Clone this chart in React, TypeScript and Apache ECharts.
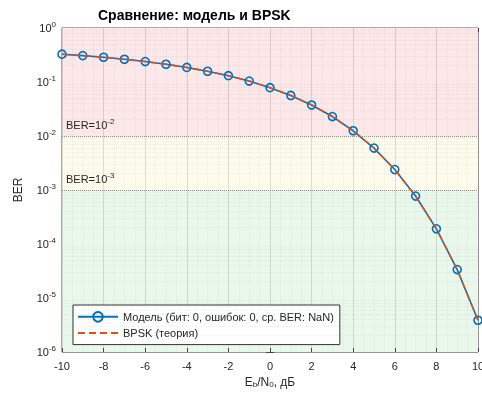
import React, { useEffect, useRef } from "react";
import * as echarts from "echarts";

const ebn0 = [-10, -9, -8, -7, -6, -5, -4, -3, -2, -1, 0, 1, 2, 3, 4, 5, 6, 7, 8, 9, 10];
const modelBer = [0.327, 0.308, 0.287, 0.264, 0.239, 0.213, 0.186, 0.158, 0.131, 0.104, 0.0786, 0.0563, 0.0375, 0.0229, 0.0125, 0.00597, 0.00239, 0.000773, 0.000191, 0.0000336, 0.00000387];
const bpskBer = [0.327, 0.308, 0.287, 0.264, 0.239, 0.213, 0.186, 0.158, 0.131, 0.104, 0.0786, 0.0563, 0.0375, 0.0229, 0.0125, 0.00597, 0.00239, 0.000773, 0.000191, 0.0000336, 0.00000387];
const decades = [-6, -5, -4, -3, -2, -1];
const minorMults = [2, 3, 4, 5, 6, 7, 8, 9];
const thresholds = [0.01, 0.001];
const bands = [
  { from: 0.01, to: 1, color: "#fce8e9" },
  { from: 0.001, to: 0.01, color: "#fdfcec" },
  { from: 0.000001, to: 0.001, color: "#eaf8eb" },
];
const titleText = "Сравнение: модель и BPSK";
const modelName = "Модель (бит: 0, ошибок: 0, ср. BER: NaN)";
const bpskName = "BPSK (теория)";

const FONT = "Liberation Sans, Arial, sans-serif";
const TXT = "#262626";

export default function App() {
  const ref = useRef<HTMLDivElement>(null);
  useEffect(() => {
    if (!ref.current) return;
    const chart = echarts.init(ref.current, null, { renderer: "svg" });
    const minorVals: number[] = [];
    decades.forEach((d) => minorMults.forEach((m) => minorVals.push(m * Math.pow(10, d))));
    const supRich = {
      b: { fontSize: 11, color: TXT, fontFamily: FONT },
      s: { fontSize: 8, color: TXT, fontFamily: FONT, padding: [0, 0, 8, 0] },
    };
    const gridLine = { show: true, lineStyle: { color: "rgba(0,0,0,0.12)", width: 1 } };
    const expOf = (v: number) => Math.round(Math.log10(v));
    chart.setOption({
      animation: false,
      textStyle: { fontFamily: FONT },
      title: {
        text: titleText,
        left: 93,
        top: 3,
        textStyle: { fontSize: 14, fontWeight: "bold", color: "#000", fontFamily: FONT },
      },
      legend: {
        orient: "vertical",
        left: 73,
        top: 305,
        itemWidth: 40,
        itemHeight: 12,
        itemGap: 5,
        padding: [6, 6, 6, 4],
        backgroundColor: "#fff",
        borderColor: "#333",
        borderWidth: 1,
        borderRadius: 0,
        textStyle: { fontSize: 11, color: TXT, fontFamily: FONT },
        data: [
          { name: modelName },
          { name: bpskName, itemStyle: { opacity: 0 } },
        ],
      },
      grid: {
        left: 62,
        right: 4,
        top: 28,
        bottom: 42,
        outerBoundsMode: "none",
        containLabel: false,
        show: true,
        borderColor: "#555",
        borderWidth: 1,
        backgroundColor: "#fff",
      },
      xAxis: [
        {
          type: "value",
          min: -10,
          max: 10,
          interval: 2,
          name: "{n|E}{sub|b}{n|/N}{sub|0}{n|, дБ}",
          nameLocation: "middle",
          nameGap: 23,
          nameTextStyle: {
            rich: {
              n: { fontSize: 12, color: TXT, fontFamily: FONT },
              sub: { fontSize: 8, color: TXT, fontFamily: FONT, padding: [5, 0, 0, 0] },
            },
          },
          axisLine: { show: false },
          axisTick: { show: true, inside: true, length: 4, lineStyle: { color: "#444" } },
          axisLabel: { fontSize: 11, color: TXT, fontFamily: FONT, margin: 8 },
          splitLine: gridLine,
          minorTick: { show: false, splitNumber: 4 },
          minorSplitLine: { show: true, lineStyle: { color: "rgba(0,0,0,0.06)", type: "dotted", width: 1 } },
          z: 3,
        },
        {
          type: "value",
          position: "top",
          min: -10,
          max: 10,
          interval: 2,
          axisLine: { show: false },
          axisTick: { show: true, inside: true, length: 4, lineStyle: { color: "#444" } },
          axisLabel: { show: false },
          splitLine: { show: false },
        },
      ],
      yAxis: [
        {
          type: "log",
          logBase: 10,
          min: 0.000001,
          max: 1,
          splitNumber: 6,
          name: "BER",
          nameLocation: "middle",
          nameGap: 38,
          nameTextStyle: { fontSize: 12, color: TXT, fontFamily: FONT },
          axisLine: { show: false },
          axisTick: { show: true, inside: true, length: 4, lineStyle: { color: "#444" } },
          axisLabel: {
            margin: 6,
            formatter: (v: number) => `{b|10}{s|${expOf(v)}}`,
            rich: supRich,
          },
          splitLine: gridLine,
        },
        {
          type: "log",
          logBase: 10,
          min: 0.000001,
          max: 1,
          splitNumber: 6,
          position: "right",
          axisLine: { show: false },
          axisTick: { show: true, inside: true, length: 4, lineStyle: { color: "#444" } },
          axisLabel: { show: false },
          splitLine: { show: false },
        },
      ],
      series: [
        {
          name: "bg",
          type: "line",
          data: [],
          silent: true,
          z: 0,
          markArea: {
            silent: true,
            data: bands.map((b) => [
              { yAxis: b.from, itemStyle: { color: b.color } },
              { yAxis: b.to },
            ]),
          },
          markLine: {
            silent: true,
            precision: 12,
            symbol: ["none", "none"],
            label: { show: false },
            lineStyle: { color: "rgba(0,0,0,0.06)", type: "dotted", width: 1 },
            data: minorVals.map((v) => ({ yAxis: v })),
          },
        },
        {
          name: "thr",
          type: "line",
          data: [],
          silent: true,
          z: 1,
          markLine: {
            silent: true,
            precision: 12,
            symbol: ["none", "none"],
            lineStyle: { color: "#8a8a8a", type: "dotted", width: 1 },
            label: {
              show: true,
              position: "insideStartTop",
              distance: [4, 3],
              formatter: (p: any) => `{b|BER=10}{s|${expOf(p.value)}}`,
              rich: supRich,
            },
            data: thresholds.map((t) => ({ yAxis: t })),
          },
        },
        {
          name: modelName,
          type: "line",
          data: ebn0.map((x, i) => [x, modelBer[i]]),
          symbol: "circle",
          symbolSize: 8,
          showAllSymbol: true,
          itemStyle: { color: "#ffffff00", borderColor: "#0072BD", borderWidth: 1.6 },
          lineStyle: { color: "#0072BD", width: 1.6 },
          color: "#0072BD",
          z: 4,
        },
        {
          name: bpskName,
          type: "line",
          data: ebn0.map((x, i) => [x, bpskBer[i]]),
          symbol: "none",
          lineStyle: { color: "#D95319", width: 1.6, type: [7, 4] },
          color: "#D95319",
          z: 5,
        },
      ],
    });
    return () => chart.dispose();
  }, []);
  return (
    <div
      ref={ref}
      style={{ position: "fixed", left: 0, top: 0, width: 482, height: 394 }}
    />
  );
}
